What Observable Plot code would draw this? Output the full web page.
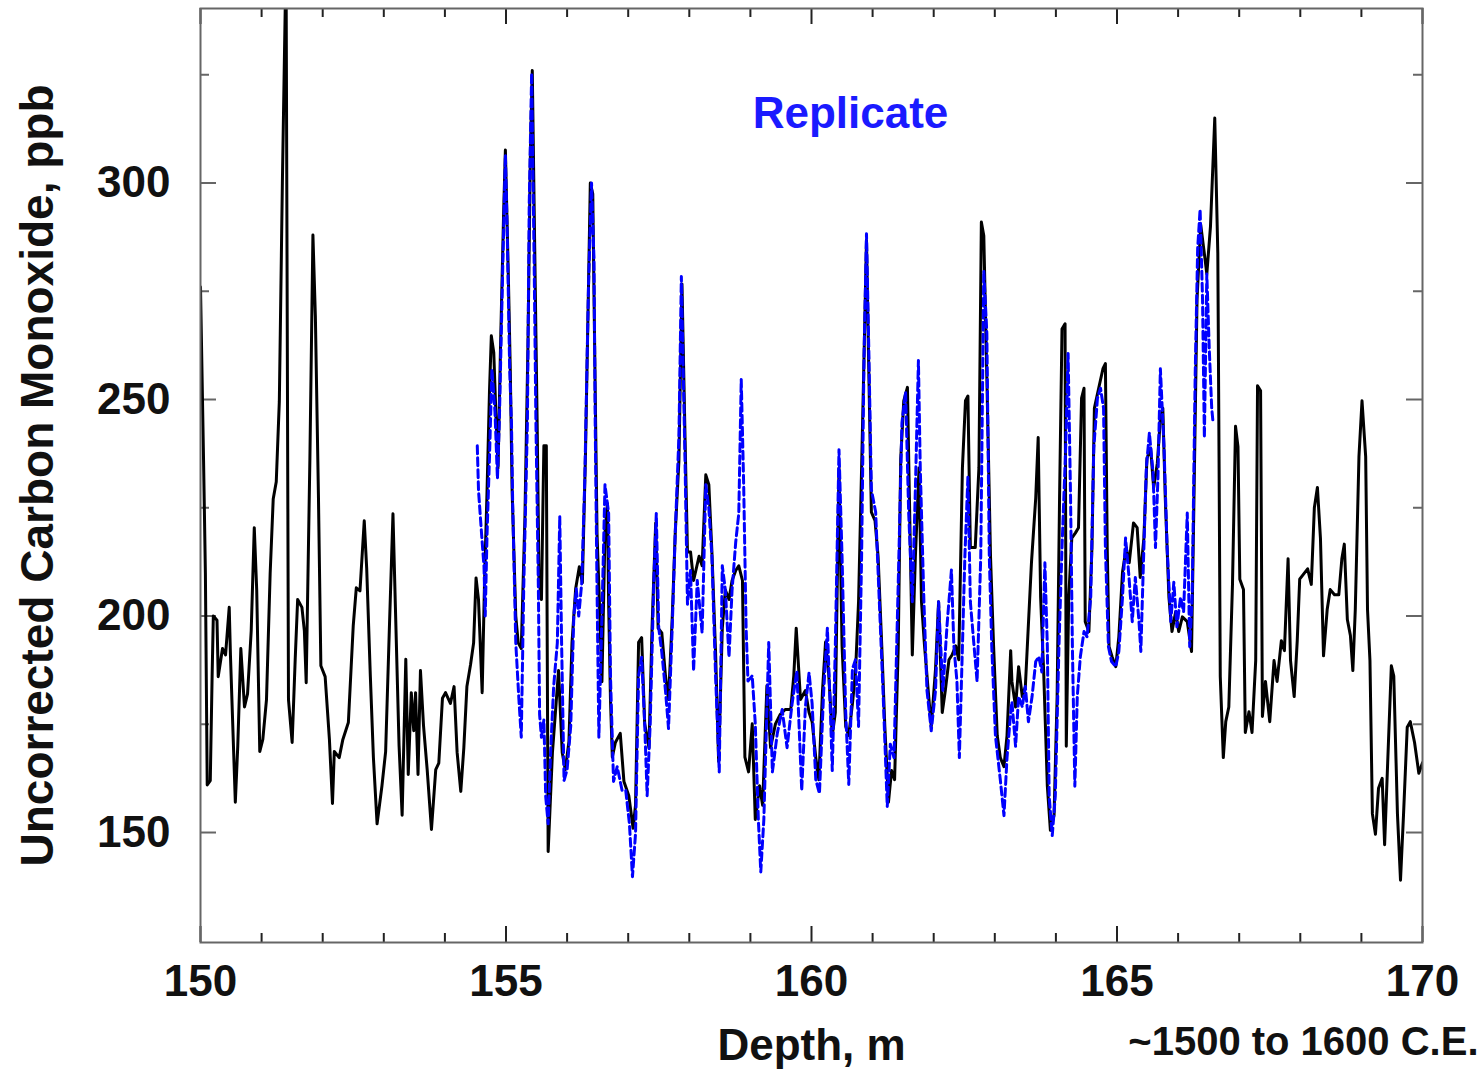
<!DOCTYPE html>
<html>
<head>
<meta charset="utf-8">
<script src="https://cdn.jsdelivr.net/npm/d3@7"></script>
<script src="https://cdn.jsdelivr.net/npm/@observablehq/plot@0.6"></script>
<style>
  html, body { margin: 0; padding: 0; background: #fff; }
  #chart svg { display: block; }
</style>
</head>
<body>
<div id="chart"></div>
<script>
// ---- Data ----
const mainDepth = [150.00,150.05,150.08,150.11,150.16,150.19,150.21,150.27,150.29,150.36,150.41,150.47,150.49,150.57,150.61,150.66,150.72,150.77,150.83,150.88,150.92,150.97,151.02,151.08,151.14,151.19,151.24,151.29,151.34,151.40,151.44,151.50,151.55,151.59,151.66,151.70,151.73,151.79,151.84,151.88,151.93,151.97,152.04,152.11,152.16,152.19,152.27,152.33,152.42,152.50,152.55,152.61,152.68,152.72,152.78,152.83,152.89,152.97,153.03,153.09,153.15,153.19,153.25,153.30,153.36,153.40,153.45,153.49,153.52,153.56,153.60,153.65,153.71,153.78,153.85,153.90,153.96,154.01,154.09,154.15,154.20,154.26,154.31,154.36,154.42,154.47,154.51,154.55,154.61,154.65,154.69,154.73,154.76,154.80,154.84,154.87,154.91,154.96,154.99,155.04,155.07,155.10,155.16,155.20,155.25,155.31,155.36,155.40,155.43,155.47,155.51,155.54,155.58,155.62,155.66,155.69,155.76,155.82,155.86,155.92,155.97,156.03,156.08,156.14,156.20,156.25,156.30,156.35,156.38,156.42,156.45,156.49,156.53,156.57,156.62,156.66,156.68,156.71,156.74,156.79,156.87,156.93,157.01,157.08,157.12,157.17,157.22,157.27,157.34,157.39,157.45,157.49,157.55,157.61,157.66,157.72,157.77,157.83,157.88,157.93,157.97,158.02,158.07,158.16,158.21,158.27,158.32,158.37,158.43,158.48,158.54,158.59,158.65,158.70,158.76,158.81,158.87,158.91,158.97,159.03,159.08,159.15,159.20,159.27,159.33,159.41,159.49,159.57,159.66,159.71,159.75,159.82,159.90,159.96,160.01,160.07,160.12,160.18,160.23,160.28,160.34,160.39,160.45,160.50,160.56,160.61,160.67,160.72,160.77,160.82,160.86,160.90,160.94,160.98,161.04,161.09,161.15,161.20,161.26,161.31,161.36,161.42,161.46,161.51,161.57,161.60,161.65,161.70,161.76,161.80,161.85,161.91,161.96,162.03,162.08,162.14,162.19,162.25,162.30,162.36,162.41,162.47,162.52,162.56,162.60,162.68,162.74,162.78,162.82,162.87,162.93,162.98,163.04,163.09,163.15,163.20,163.26,163.28,163.34,163.39,163.45,163.50,163.54,163.60,163.67,163.71,163.75,163.80,163.86,163.91,163.97,164.02,164.06,164.10,164.15,164.17,164.21,164.26,164.32,164.37,164.42,164.46,164.48,164.54,164.59,164.63,164.70,164.77,164.81,164.84,164.87,164.92,164.98,165.03,165.09,165.15,165.20,165.27,165.33,165.38,165.44,165.49,165.55,165.60,165.66,165.71,165.75,165.79,165.85,165.90,165.96,166.01,166.07,166.15,166.22,166.26,166.31,166.37,166.42,166.47,166.53,166.60,166.65,166.67,166.69,166.74,166.78,166.83,166.89,166.94,166.98,167.01,167.07,167.10,167.16,167.21,167.27,167.30,167.35,167.38,167.43,167.50,167.57,167.62,167.69,167.74,167.80,167.84,167.90,167.95,167.99,168.05,168.12,168.18,168.23,168.28,168.33,168.38,168.44,168.49,168.56,168.63,168.68,168.72,168.77,168.82,168.86,168.90,168.96,169.01,169.07,169.10,169.14,169.18,169.23,169.28,169.34,169.38,169.43,169.49,169.53,169.59,169.64,169.69,169.75,169.80,169.87,169.94,170.00];
const mainCO = [276,236,210,161,162,186,200,199,186,192.5,191,202,191,157,170,192.5,179,182,196.6,220.4,206,168.7,171.5,180.7,209.8,227,231,249.5,300,352,180.7,170.8,190,203.8,202,196.6,184.6,236,288,269.3,228,188.5,186,171.5,156.7,168.7,167.3,171.5,175.4,197.8,206.5,205.8,222,211,186,167.3,152,160.8,168.7,196.6,223.6,202,170,154,190,163.4,182.3,173.5,182.3,163.4,187.4,174.7,164.5,150.7,164.5,166,181,182.3,179.8,183.7,168.5,159.5,169.6,183.7,188.8,193.8,208.8,203.8,182.3,208.8,229,252,264.7,260.8,244.4,234.2,262,292.5,307.6,277.4,257,229,200,193.8,192.5,223,263.3,307.6,326,285,244.4,208.8,203.8,239.3,239.3,145.6,168.5,179.8,187.4,168.5,164.5,171,193.8,206.3,211.4,207.7,236.8,276,300,297.5,263.3,219,202.6,184.8,219,226,202.7,180.7,167.4,170.8,172.9,161.8,158.5,151,156.3,193.9,195,175.1,169.6,197.2,221.5,197.2,196.1,186.2,180.7,199.4,219.2,235.8,276.7,241.4,214.8,214.8,208.2,213.8,211.6,232.6,230.3,214.8,191.6,166.4,197.2,206,203.8,208.2,210.5,211.6,208.2,167.4,164,175.1,153,160.8,156.3,183.9,169.6,175.1,177.3,178.4,178.4,186.2,197.2,180.7,182.8,177.7,175.6,167.3,162.2,182.8,194,186.9,172.4,177.7,234.2,193.1,174.5,172.4,179.8,186.9,203.3,234.2,260,286.8,254.9,224,222,213.7,193.1,174.5,157,164.3,162.2,193.1,236.3,249.7,252.8,229.2,191,213.7,234.2,203.3,193.1,182.8,174.5,187.8,203.3,177.7,182.8,189.9,191,193.1,189.9,234.2,249.7,250.8,215.8,215.8,234.2,291,287.8,254.9,213.7,193.1,172.4,167.3,165.2,172.4,192,184.9,179,188.3,181.4,183.7,195.2,212.3,227.3,241.2,204.3,187.1,160.7,150.5,154,181.4,227.3,266.3,267.5,169.9,204.3,218,219.2,220.4,250.3,252.6,198.7,196.4,215.8,248,252.6,257.1,258.3,215.8,192.9,190.6,188.3,195.2,210.1,215.8,212.3,221.5,220.4,208.9,218,236.4,238.8,229.6,235.3,245.6,248,227.3,204.3,196.4,201,196.4,199.8,198.7,191.8,227.3,273.2,290.4,284.8,279,290,315,283.8,236.8,186.1,167.3,175.6,179,207.3,243.8,239.1,208.5,206.1,173.1,177.9,173.1,189.7,253.2,252,176.8,184.9,175.6,189.7,184.9,194.3,192,213.2,189.7,181.4,194.3,208.5,209.6,210.9,207.3,225,229.7,217.9,190.8,201.5,206.1,204.9,204.9,213.2,216.6,199.2,195.5,187.4,201.5,236.8,249.7,236.8,201.5,189.7,154.3,149.6,160.2,162.5,147.2,166.1,188.5,186.1,154.3,139,154.3,174.3,175.6,170.8,163.7,166.1];

const repDepth = [154.53,154.55,154.60,154.64,154.66,154.69,154.73,154.77,154.82,154.86,154.89,154.95,154.99,155.02,155.06,155.09,155.11,155.16,155.21,155.25,155.29,155.35,155.38,155.42,155.46,155.49,155.53,155.55,155.58,155.62,155.65,155.69,155.73,155.78,155.84,155.88,155.91,155.95,156.00,156.06,156.11,156.15,156.19,156.24,156.29,156.35,156.40,156.44,156.46,156.49,156.52,156.57,156.62,156.68,156.71,156.76,156.82,156.90,156.96,157.02,157.07,157.12,157.17,157.22,157.27,157.31,157.36,157.42,157.46,157.50,157.55,157.61,157.66,157.72,157.77,157.83,157.87,157.93,157.97,158.02,158.07,158.13,158.21,158.27,158.32,158.37,158.43,158.49,158.54,158.59,158.65,158.70,158.76,158.81,158.85,158.89,158.93,158.96,159.03,159.08,159.13,159.17,159.22,159.30,159.36,159.44,159.52,159.60,159.68,159.76,159.84,159.90,159.96,160.01,160.07,160.13,160.20,160.26,160.31,160.34,160.39,160.45,160.50,160.56,160.61,160.67,160.72,160.77,160.82,160.86,160.90,160.94,160.98,161.05,161.11,161.17,161.24,161.29,161.35,161.43,161.48,161.54,161.59,161.65,161.70,161.75,161.78,161.84,161.89,161.96,162.03,162.08,162.15,162.22,162.29,162.33,162.38,162.42,162.46,162.51,162.56,162.60,162.66,162.71,162.77,162.82,162.87,162.91,162.95,163.01,163.09,163.15,163.20,163.26,163.28,163.34,163.39,163.45,163.50,163.55,163.61,163.67,163.72,163.77,163.82,163.86,163.89,163.94,163.99,164.05,164.10,164.16,164.20,164.24,164.27,164.31,164.35,164.40,164.46,164.51,164.57,164.62,164.68,164.73,164.78,164.81,164.86,164.91,164.98,165.03,165.09,165.14,165.19,165.25,165.30,165.36,165.39,165.44,165.48,165.53,165.59,165.63,165.67,165.71,165.77,165.82,165.88,165.93,165.98,166.04,166.09,166.15,166.19,166.23,166.28,166.32,166.36,166.40,166.43,166.47,166.51,166.55,166.57];
const repCO = [239.3,229,219,211.4,200,219,236.8,257,247,231.7,244.4,282.5,306.5,288.7,257,244.4,225.5,193.8,181,172,206.3,244.4,295,325.4,282.5,244.4,206.3,177.2,172,176,158.3,152,168.5,183.7,193.8,223,193.8,162,164.5,174.7,200,206.3,200,207.7,231.7,276,300,282.5,244.4,206.3,172,200,230.3,223.7,186.2,161.8,165.2,159.7,159.7,152,139.8,149.8,186.2,190.5,175.1,158.5,175.1,208.2,223.7,197.2,191.6,182.8,174,197.2,219.2,241.4,278.4,235.8,202.7,210.5,187.3,208.2,196.1,230.3,224.8,213.8,186.2,164,211.6,206,190.5,206,217.1,223.7,254.6,230.3,197.2,185,186.2,175.1,153,140.9,153,193.9,164,172.9,178.4,169.6,179.5,187.3,159.7,179,186.9,179.8,162.2,159,182.8,197.2,177.7,164.3,193.1,238.4,213.7,177.7,161.1,187.8,189.9,174.5,213.7,260,288.3,260,229.2,224,203.3,182.8,156,170.4,167.3,213.7,244.6,251.8,224,203.3,229.2,259,234.2,203.3,182.8,173.5,182.8,203.3,182.8,198.2,210.6,193.1,184.9,167.3,187.8,213.7,232.1,203.3,193.1,184.9,213.7,279.7,265.2,213.7,193.1,172.4,162.2,153.9,167.3,177.7,180.2,169.9,181.4,179,183.7,175.6,181.4,189.5,190.6,187.1,212.3,192.9,158.4,149.3,158.4,192.9,215.8,238.8,260.6,227.3,192.9,160.7,181.4,190.6,196.4,195.2,204.3,238.8,250.3,252.6,248,215.8,192.9,189.5,188.3,191.8,204.3,218,210.1,198.7,208.9,198.7,191.8,215.8,234.2,242.3,233.1,215.8,231.9,257.1,238.8,215.8,198.7,207.8,197.5,204.3,201,223.8,192.9,204.3,256,284.8,293.9,273.2,241.2,279,261.7,248,245];

const xMajorTicks = [150, 155, 160, 165, 170];
const xMinorTicks = [151,152,153,154,156,157,158,159,161,162,163,164,166,167,168,169];
const yMajorTicks = [150, 200, 250, 300];
const yMinorTicks = [175, 225, 275, 325];

const yLabel = "Uncorrected Carbon Monoxide, ppb";
const xLabel = "Depth, m";
const periodLabel = "~1500 to 1600 C.E.";
const replicateLabel = "Replicate";

// ---- Build tables ----
const mainRows = mainDepth.map((d, i) => ({depth: d, co: mainCO[i]}));
const repRows = repDepth.map((d, i) => ({depth: d, co: repCO[i]}));

const W = 1483, H = 1069;
const mTop = 8, mBottom = 127, mLeft = 200, mRight = 61;
const innerH = H - mTop - mBottom;
const innerW = W - mLeft - mRight;
const majorLen = 16, minorLen = 9;
const font = "'Liberation Sans', Arial, Helvetica, sans-serif";
const tickColor = "#222";

const chart = Plot.plot({
  width: W,
  height: H,
  marginTop: mTop,
  marginBottom: mBottom,
  marginLeft: mLeft,
  marginRight: mRight,
  style: {fontFamily: font, background: "#fff"},
  x: {domain: [150, 170], axis: null},
  y: {domain: [124.6, 340.3], axis: null},
  marks: [
    // inward ticks, bottom & top
    Plot.tickX(xMajorTicks, {x: d => d, insetTop: innerH - majorLen, stroke: tickColor, strokeWidth: 2}),
    Plot.tickX(xMinorTicks, {x: d => d, insetTop: innerH - minorLen, stroke: tickColor, strokeWidth: 2}),
    Plot.tickX(xMajorTicks, {x: d => d, insetBottom: innerH - majorLen, stroke: tickColor, strokeWidth: 2}),
    Plot.tickX(xMinorTicks, {x: d => d, insetBottom: innerH - minorLen, stroke: tickColor, strokeWidth: 2}),
    // inward ticks, left & right
    Plot.tickY(yMajorTicks, {y: d => d, insetRight: innerW - majorLen, stroke: "#666", strokeWidth: 2}),
    Plot.tickY(yMinorTicks, {y: d => d, insetRight: innerW - minorLen, stroke: "#666", strokeWidth: 2}),
    Plot.tickY(yMajorTicks, {y: d => d, insetLeft: innerW - majorLen, stroke: "#666", strokeWidth: 2}),
    Plot.tickY(yMinorTicks, {y: d => d, insetLeft: innerW - minorLen, stroke: "#666", strokeWidth: 2}),
    // tick labels
    Plot.axisX({ticks: xMajorTicks, tickSize: 0, tickPadding: 22, fontSize: 44, fontWeight: "bold", fill: "#111", tickFormat: d => String(d), label: null}),
    Plot.axisY({ticks: yMajorTicks, tickSize: 0, tickPadding: 30, fontSize: 44, fontWeight: "bold", fill: "#111", tickFormat: d => String(d), label: null}),
    // data
    Plot.line(mainRows, {x: "depth", y: "co", stroke: "#000", strokeWidth: 3, clip: true, strokeLinejoin: "round"}),
    Plot.line(repRows, {x: "depth", y: "co", stroke: "#0000ff", strokeWidth: 3, strokeDasharray: "8,4", clip: true}),
    // frame
    Plot.frame({stroke: "#666", strokeWidth: 2}),
    // labels
    Plot.text([yLabel], {frameAnchor: "left", textAnchor: "middle", lineAnchor: "middle", rotate: -90, dx: -162, fontSize: 46, fontWeight: "bold", fill: "#111"}),
    Plot.text([xLabel], {frameAnchor: "bottom", textAnchor: "middle", dy: 117, fontSize: 44, fontWeight: "bold", fill: "#111"}),
    Plot.text([periodLabel], {frameAnchor: "bottom-right", textAnchor: "end", dx: 56, dy: 112, fontSize: 40, fontWeight: "bold", fill: "#111"}),
    Plot.text([replicateLabel], {frameAnchor: "top", textAnchor: "middle", dx: 39, dy: 88, fontSize: 44, fontWeight: "bold", fill: "#1a1aff"})
  ]
});

document.getElementById("chart").appendChild(chart);
</script>
</body>
</html>
